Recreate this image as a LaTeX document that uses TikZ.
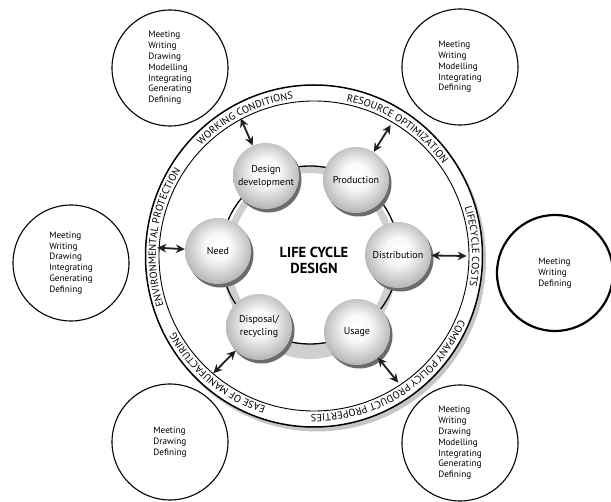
\documentclass[tikz,border=0pt]{standalone}
\usepackage{fontspec}
\setmainfont{PT Sans}
\usetikzlibrary{arrows.meta,calc,shadows,decorations.text}
\pgfdeclareradialshading{orbshade}{\pgfpoint{0bp}{4bp}}{color(0bp)=(white); color(10bp)=(white!95!gray); color(30bp)=(gray!68); color(50bp)=(gray!90)}
\tikzset{
  orbbox/.style={circle, minimum size=66pt, inner sep=0pt, shading=orbshade, align=center,
                 drop shadow={shadow xshift=2.5pt, shadow yshift=-3.5pt, fill=black!58, opacity=1},
                 font=\fontsize{10}{13}\selectfont},
  listcirc/.style={draw, circle, line width=1.1pt, minimum size=116pt, inner sep=0pt,
                   align=left, font=\fontsize{9.2}{10.8}\selectfont},
  dblarr/.style={{Stealth[length=9pt,width=8.5pt]}-{Stealth[length=9pt,width=8.5pt]},
                 line width=1.8pt, draw=black!88},
  ringtext/.style={decorate, decoration={text along path, text align=center,
                   text={|\fontsize{10.3}{10.3}\selectfont|#1}}}}

\begin{document}
\begin{tikzpicture}[x=1pt,y=1pt]
        \useasboundingbox (0,0) rectangle (611,-502);
        \coordinate (mid) at (314,-256);
        \coordinate (hub) at (310,-255);
        % outer band with its shadow
        \fill[gray!45] ([shift={(3,-4)}]mid) ellipse[x radius=169, y radius=171.5];
        \draw[line width=1.5pt, fill=white] (mid) ellipse[x radius=168.5, y radius=171];
        \draw[line width=0.9pt] (mid) circle[radius=155];
        \path[ringtext={WORKING CONDITIONS}] ([shift={(146.5:158.2)}]mid) arc[start angle=146.5, end angle=86.5, radius=158.2];
        \path[ringtext={RESOURCE OPTIMIZATION}] ([shift={(86.8:158.2)}]mid) arc[start angle=86.8, end angle=26.8, radius=158.2];
        \path[ringtext={LIFECYCLE COSTS}] ([shift={(28.5:158.2)}]mid) arc[start angle=28.5, end angle=-21.5, radius=158.2];
        \path[ringtext={COMPANY POLICY PRODUCT PROPERTIES}] ([shift={(-12.3:158.2)}]mid) arc[start angle=-12.3, end angle=-102.3, radius=158.2];
        \path[ringtext={EASE OF MANUFACTURING}] ([shift={(-99.5:158.2)}]mid) arc[start angle=-99.5, end angle=-159.5, radius=158.2];
        \path[ringtext={ENVIRONMENTAL PROTECTION}] ([shift={(204.7:158.2)}]mid) arc[start angle=204.7, end angle=140.7, radius=158.2];
        % the wheel behind the stages
        \fill[gray!38, even odd rule] ([yshift=-7.5pt]hub) ellipse[x radius=87, y radius=96.5]
              ([yshift=-3.5pt]hub) ellipse[x radius=79, y radius=85.5];
        \draw[line width=1.3pt] (hub) circle[radius=89];
        \node[orbbox] (dd) at (266,-176) {Design\\development};
        \node[orbbox] (prod) at (356,-180) {Production};
        \node[orbbox] (dist) at (398,-255) {Distribution};
        \node[orbbox] (use) at (357,-332) {Usage};
        \node[orbbox] (disp) at (259,-327) {Disposal/\\recycling};
        \node[orbbox] (need) at (218,-251) {Need};
        \node[font=\bfseries\fontsize{14.5}{16}\selectfont, align=center] (lcd) at (314,-260) {LIFE CYCLE\\DESIGN};
        % where the arrows meet the band
        \coordinate (wc) at (240.7,-118.3);
        \coordinate (ro) at (390.7,-125);
        \coordinate (lc) at (466.7,-256);
        \coordinate (cp) at (398.3,-382.7);
        \coordinate (em) at (213.3,-373.3);
        \coordinate (ep) at (157.3,-247.7);
        \draw[dblarr] (dd) -- (wc);
        \draw[dblarr] (prod) -- (ro);
        \draw[dblarr] (dist) -- (lc);
        \draw[dblarr] (use) -- (cp);
        \draw[dblarr] (disp) -- (em);
        \draw[dblarr] (need) -- (ep);
        % activity lists
        \node[listcirc] (acttl) at (170,-68)
          {Meeting\\Writing\\Drawing\\Modelling\\Integrating\\Generating\\Defining};
        \node[listcirc] (acttr) at (460,-67)
          {Meeting\\Writing\\Modelling\\Integrating\\Defining};
        \node[listcirc] (actl) at (71,-263)
          {Meeting\\Writing\\Drawing\\Integrating\\Generating\\Defining};
        \node[listcirc, line width=2.2pt] (actr) at (555,-273)
          {Meeting\\Writing\\Defining};
        \node[listcirc] (actbl) at (170,-442)
          {Meeting\\Drawing\\Defining};
        \node[listcirc] (actbr) at (460,-443)
          {Meeting\\Writing\\Drawing\\Modelling\\Integrating\\Generating\\Defining};
      \end{tikzpicture}
\end{document}
